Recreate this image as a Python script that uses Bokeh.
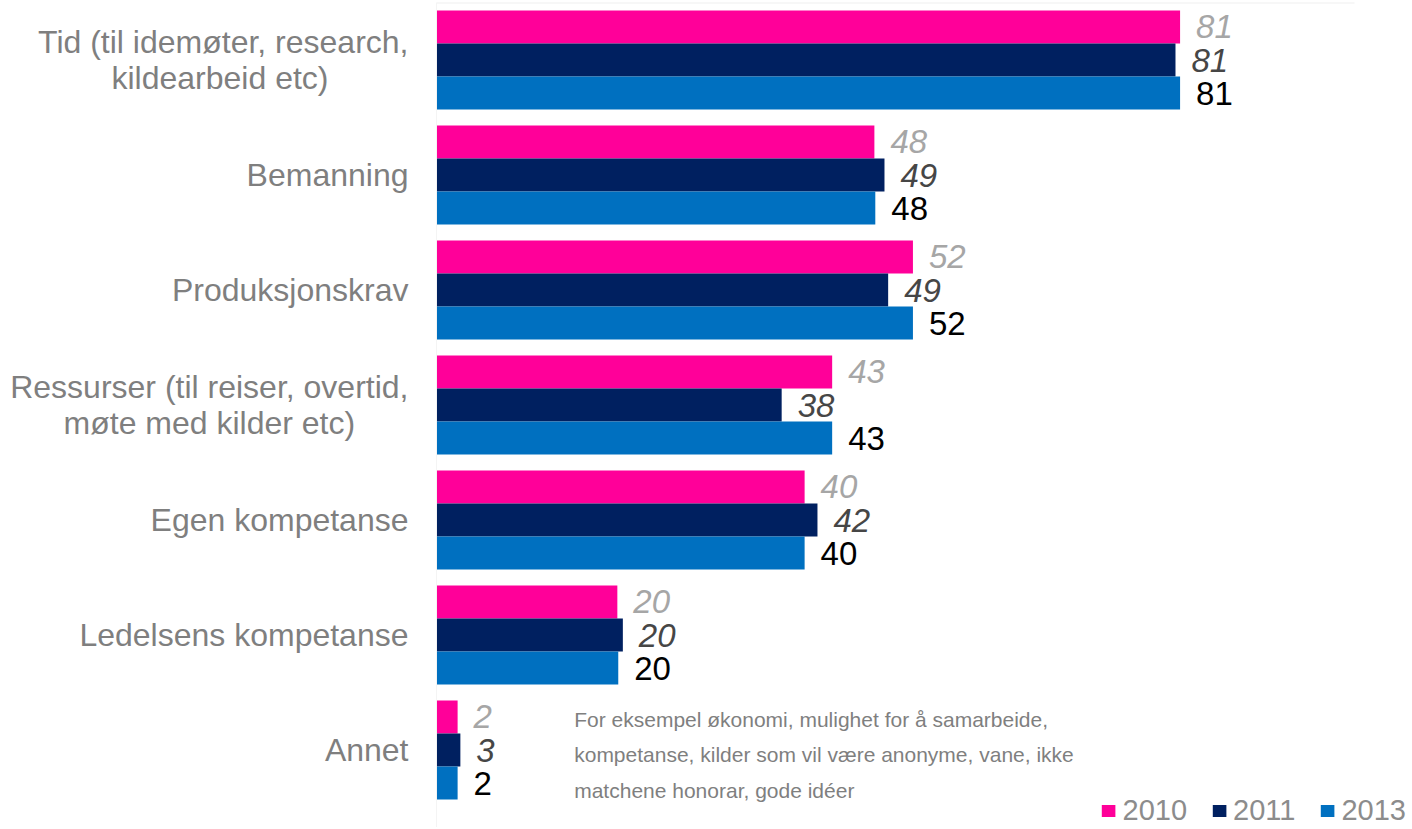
from bokeh.plotting import figure
from bokeh.models import ColumnDataSource, Range1d, FixedTicker, Legend, LegendItem, Label
from bokeh.transform import dodge
from bokeh.core.properties import value
from bokeh.embed import file_html
from bokeh.resources import INLINE

NB = "\u00a0"
categories = [
    "Tid (til idemøter, research,\nkildearbeid etc)" + NB * 9,
    "Bemanning",
    "Produksjonskrav",
    "Ressurser (til reiser, overtid,\nmøte med kilder etc)" + NB * 6,
    "Egen kompetanse",
    "Ledelsens kompetanse",
    "Annet",
]
years = ["2010", "2011", "2013"]
v2010 = [81, 47.7, 51.9, 43.1, 40.1, 19.7, 2.3]
v2011 = [80.5, 48.8, 49.2, 37.6, 41.5, 20.3, 2.6]
v2013 = [81, 47.8, 51.9, 43.1, 40.1, 19.8, 2.3]
lbl2010 = ["81", "48", "52", "43", "40", "20", "2"]
lbl2011 = ["81", "49", "49", "38", "42", "20", "3"]
lbl2013 = ["81", "48", "52", "43", "40", "20", "2"]
note = "For eksempel økonomi, mulighet for å samarbeide,\nkompetanse, kilder som vil være anonyme, vane, ikke\nmatchene honorar, gode idéer"

colors = ["#FF0099", "#002060", "#0070C0"]
label_colors = ["#A6A6A6", "#464646", "#000000"]
label_styles = ["italic", "italic", "normal"]

FONT = "Liberation Sans"
W, H = 1406, 827
LEFT = 436
PX_PER_UNIT = 9.18
frame_w = W - LEFT
x_max = frame_w / PX_PER_UNIT
STEP = 115.0
TOP = 2
span = (H - TOP) / STEP

idx = list(range(len(categories)))
src = ColumnDataSource(dict(y=idx, v2010=v2010, v2011=v2011, v2013=v2013,
                            l2010=lbl2010, l2011=lbl2011, l2013=lbl2013))

p = figure(width=W, height=H, output_backend="svg", toolbar_location=None,
           x_range=Range1d(0, x_max), y_range=Range1d(-0.5 + span, -0.5),
           min_border_left=LEFT, min_border_right=0, min_border_top=TOP,
           min_border_bottom=0)
p.outline_line_color = None
p.xgrid.visible = False
p.ygrid.visible = False
p.xaxis.visible = False
p.background_fill_color = "white"
p.border_fill_color = "white"

yax = p.yaxis[0]
yax.ticker = FixedTicker(ticks=idx)
yax.major_label_overrides = {i: c for i, c in enumerate(categories)}
yax.major_label_text_font = FONT
yax.major_label_text_font_size = "32px"
yax.major_label_text_color = "#7F7F7F"
yax.major_label_text_line_height = 0.98
yax.major_tick_line_color = None
yax.minor_tick_line_color = None
yax.major_tick_out = 0
yax.major_tick_in = 0
yax.major_label_standoff = 28
yax.axis_line_color = "#F4F4F4"

# faint top border of plot area
p.segment(x0=[0], y0=[-0.5], x1=[100], y1=[-0.5], line_color="#F0F0F0", line_width=2)

BH = 0.287
offsets = [-BH, 0.0, BH]
vals = ["v2010", "v2011", "v2013"]
lbls = ["l2010", "l2011", "l2013"]
renderers = []
for k in range(3):
    r = p.hbar(y=dodge("y", offsets[k], range=p.y_range), right=vals[k], left=0,
               height=BH, source=src, fill_color=colors[k], line_color=None)
    renderers.append(r)
    p.text(x=vals[k], y=dodge("y", offsets[k], range=p.y_range), text=lbls[k],
           source=src, x_offset=16, text_baseline="middle", text_align="left",
           text_font=value(FONT), text_font_size="33px",
           text_color=label_colors[k], text_font_style=label_styles[k])

note_label = Label(x=15.0, y=len(categories) - 1, text=note, text_font=FONT,
                   text_font_size="21px", text_color="#7F7F7F",
                   text_baseline="middle", text_align="left",
                   text_line_height=1.53, y_offset=-5)
p.add_layout(note_label)

legend = Legend(items=[LegendItem(label=years[k], renderers=[renderers[k]]) for k in range(3)],
                orientation="horizontal", location="bottom_right",
                label_text_font=FONT, label_text_font_size="29px",
                label_text_color="#8C8C8C", glyph_width=17, glyph_height=15,
                label_standoff=6, spacing=23, padding=0, margin=0,
                label_height=20,
                background_fill_alpha=0, border_line_color=None)
p.add_layout(legend)

open("out.html", "w").write(file_html(p, INLINE))
